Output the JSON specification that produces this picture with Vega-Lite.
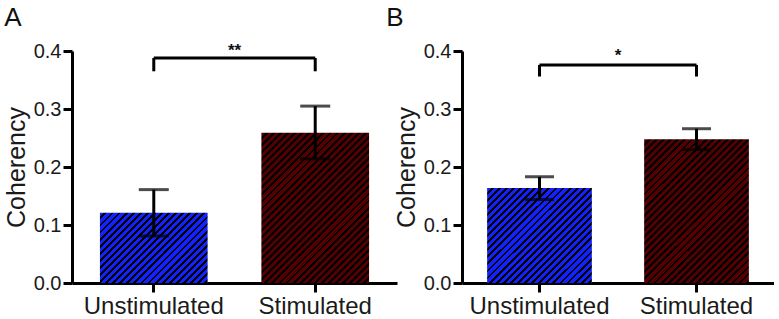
{
"$schema":"https://vega.github.io/schema/vega-lite/v6.json",
"padding":{"left":4,"top":5,"right":0,"bottom":0},
"bounds":"flush",
"spacing":65,
"config":{"view":{"stroke":null},"font":"Liberation Sans",
"axis":{"domainColor":"#000","domainWidth":3,"tickColor":"#000","tickWidth":3,"tickSize":9,"labelColor":"#1a1a1a","titleColor":"#1a1a1a","grid":false,"labelFont":"Liberation Sans","titleFont":"Liberation Sans"},
"axisX":{"labelFontSize":24,"labelPadding":2,"labelAngle":0},
"axisY":{"labelFontSize":20,"labelPadding":2,"titleFontSize":25,"titleFontWeight":"normal","titlePadding":4,"labelFlush":false,"labelOverlap":false},
"title":{"fontSize":26,"fontWeight":"normal","anchor":"start","frame":"bounds","color":"#111","font":"Liberation Sans","offset":10}},
"datasets":{
"barsA":[{"group":"Unstimulated","mean":0.121,"lo":0.081,"hi":0.161},{"group":"Stimulated","mean":0.259,"lo":0.214,"hi":0.305}],
"barsB":[{"group":"Unstimulated","mean":0.164,"lo":0.144,"hi":0.183},{"group":"Stimulated","mean":0.248,"lo":0.230,"hi":0.266}],
"brA":[{"from":"Unstimulated","to":"Stimulated","y":0.388,"leg":0.365,"ty":0.392,"label":"**"}],
"brB":[{"from":"Unstimulated","to":"Stimulated","y":0.376,"leg":0.356,"ty":0.383,"label":"*"}]
},
"hconcat":[
{"width":325,"height":232,"title":{"text":"A"},
"encoding":{
"x":{"field":"group","type":"nominal","title":null,"scale":{"domain":["Unstimulated","Stimulated"],"paddingInner":0.333,"paddingOuter":0.173},"axis":{"domainWidth":3,"tickWidth":3}},
"y":{"field":"mean","type":"quantitative","title":"Coherency","scale":{"domain":[0,0.4],"nice":false},"axis":{"values":[0,0.1,0.2,0.3,0.4],"format":".1f","domainWidth":3,"tickWidth":3}}},
"layer":[
{"data":{"name":"barsA"},"transform":[{"filter":"datum.group==='Unstimulated'"}],"mark":{"type":"bar","fill":{"gradient":"linear","x1":0,"y1":0,"x2":1.8432,"y2":1.2014,"stops":[
{"offset":0,"color":"#12f"},{"offset":0.015,"color":"#12f"},{"offset":0.015,"color":"#000"},{"offset":0.025,"color":"#000"},
{"offset":0.025,"color":"#12f"},{"offset":0.04,"color":"#12f"},{"offset":0.04,"color":"#000"},{"offset":0.05,"color":"#000"},
{"offset":0.05,"color":"#12f"},{"offset":0.065,"color":"#12f"},{"offset":0.065,"color":"#000"},{"offset":0.075,"color":"#000"},
{"offset":0.075,"color":"#12f"},{"offset":0.09,"color":"#12f"},{"offset":0.09,"color":"#000"},{"offset":0.1,"color":"#000"},
{"offset":0.1,"color":"#12f"},{"offset":0.115,"color":"#12f"},{"offset":0.115,"color":"#000"},{"offset":0.125,"color":"#000"},
{"offset":0.125,"color":"#12f"},{"offset":0.14,"color":"#12f"},{"offset":0.14,"color":"#000"},{"offset":0.15,"color":"#000"},
{"offset":0.15,"color":"#12f"},{"offset":0.165,"color":"#12f"},{"offset":0.165,"color":"#000"},{"offset":0.175,"color":"#000"},
{"offset":0.175,"color":"#12f"},{"offset":0.19,"color":"#12f"},{"offset":0.19,"color":"#000"},{"offset":0.2,"color":"#000"},
{"offset":0.2,"color":"#12f"},{"offset":0.215,"color":"#12f"},{"offset":0.215,"color":"#000"},{"offset":0.225,"color":"#000"},
{"offset":0.225,"color":"#12f"},{"offset":0.24,"color":"#12f"},{"offset":0.24,"color":"#000"},{"offset":0.25,"color":"#000"},
{"offset":0.25,"color":"#12f"},{"offset":0.265,"color":"#12f"},{"offset":0.265,"color":"#000"},{"offset":0.275,"color":"#000"},
{"offset":0.275,"color":"#12f"},{"offset":0.29,"color":"#12f"},{"offset":0.29,"color":"#000"},{"offset":0.3,"color":"#000"},
{"offset":0.3,"color":"#12f"},{"offset":0.315,"color":"#12f"},{"offset":0.315,"color":"#000"},{"offset":0.325,"color":"#000"},
{"offset":0.325,"color":"#12f"},{"offset":0.34,"color":"#12f"},{"offset":0.34,"color":"#000"},{"offset":0.35,"color":"#000"},
{"offset":0.35,"color":"#12f"},{"offset":0.365,"color":"#12f"},{"offset":0.365,"color":"#000"},{"offset":0.375,"color":"#000"},
{"offset":0.375,"color":"#12f"},{"offset":0.39,"color":"#12f"},{"offset":0.39,"color":"#000"},{"offset":0.4,"color":"#000"},
{"offset":0.4,"color":"#12f"},{"offset":0.415,"color":"#12f"},{"offset":0.415,"color":"#000"},{"offset":0.425,"color":"#000"},
{"offset":0.425,"color":"#12f"},{"offset":0.44,"color":"#12f"},{"offset":0.44,"color":"#000"},{"offset":0.45,"color":"#000"},
{"offset":0.45,"color":"#12f"},{"offset":0.465,"color":"#12f"},{"offset":0.465,"color":"#000"},{"offset":0.475,"color":"#000"},
{"offset":0.475,"color":"#12f"},{"offset":0.49,"color":"#12f"},{"offset":0.49,"color":"#000"},{"offset":0.5,"color":"#000"},
{"offset":0.5,"color":"#12f"},{"offset":0.515,"color":"#12f"},{"offset":0.515,"color":"#000"},{"offset":0.525,"color":"#000"},
{"offset":0.525,"color":"#12f"},{"offset":0.54,"color":"#12f"},{"offset":0.54,"color":"#000"},{"offset":0.55,"color":"#000"},
{"offset":0.55,"color":"#12f"},{"offset":0.565,"color":"#12f"},{"offset":0.565,"color":"#000"},{"offset":0.575,"color":"#000"},
{"offset":0.575,"color":"#12f"},{"offset":0.59,"color":"#12f"},{"offset":0.59,"color":"#000"},{"offset":0.6,"color":"#000"},
{"offset":0.6,"color":"#12f"},{"offset":0.615,"color":"#12f"},{"offset":0.615,"color":"#000"},{"offset":0.625,"color":"#000"},
{"offset":0.625,"color":"#12f"},{"offset":0.64,"color":"#12f"},{"offset":0.64,"color":"#000"},{"offset":0.65,"color":"#000"}
]}}},
{"data":{"name":"barsA"},"transform":[{"filter":"datum.group==='Stimulated'"}],"mark":{"type":"bar","fill":{"gradient":"linear","x1":0,"y1":0,"x2":0.8918,"y2":1.2437,"stops":[
{"offset":0,"color":"#500"},{"offset":0.015,"color":"#500"},{"offset":0.015,"color":"#000"},{"offset":0.025,"color":"#000"},
{"offset":0.025,"color":"#500"},{"offset":0.04,"color":"#500"},{"offset":0.04,"color":"#000"},{"offset":0.05,"color":"#000"},
{"offset":0.05,"color":"#500"},{"offset":0.065,"color":"#500"},{"offset":0.065,"color":"#000"},{"offset":0.075,"color":"#000"},
{"offset":0.075,"color":"#500"},{"offset":0.09,"color":"#500"},{"offset":0.09,"color":"#000"},{"offset":0.1,"color":"#000"},
{"offset":0.1,"color":"#500"},{"offset":0.115,"color":"#500"},{"offset":0.115,"color":"#000"},{"offset":0.125,"color":"#000"},
{"offset":0.125,"color":"#500"},{"offset":0.14,"color":"#500"},{"offset":0.14,"color":"#000"},{"offset":0.15,"color":"#000"},
{"offset":0.15,"color":"#500"},{"offset":0.165,"color":"#500"},{"offset":0.165,"color":"#000"},{"offset":0.175,"color":"#000"},
{"offset":0.175,"color":"#500"},{"offset":0.19,"color":"#500"},{"offset":0.19,"color":"#000"},{"offset":0.2,"color":"#000"},
{"offset":0.2,"color":"#500"},{"offset":0.215,"color":"#500"},{"offset":0.215,"color":"#000"},{"offset":0.225,"color":"#000"},
{"offset":0.225,"color":"#500"},{"offset":0.24,"color":"#500"},{"offset":0.24,"color":"#000"},{"offset":0.25,"color":"#000"},
{"offset":0.25,"color":"#500"},{"offset":0.265,"color":"#500"},{"offset":0.265,"color":"#000"},{"offset":0.275,"color":"#000"},
{"offset":0.275,"color":"#500"},{"offset":0.29,"color":"#500"},{"offset":0.29,"color":"#000"},{"offset":0.3,"color":"#000"},
{"offset":0.3,"color":"#500"},{"offset":0.315,"color":"#500"},{"offset":0.315,"color":"#000"},{"offset":0.325,"color":"#000"},
{"offset":0.325,"color":"#500"},{"offset":0.34,"color":"#500"},{"offset":0.34,"color":"#000"},{"offset":0.35,"color":"#000"},
{"offset":0.35,"color":"#500"},{"offset":0.365,"color":"#500"},{"offset":0.365,"color":"#000"},{"offset":0.375,"color":"#000"},
{"offset":0.375,"color":"#500"},{"offset":0.39,"color":"#500"},{"offset":0.39,"color":"#000"},{"offset":0.4,"color":"#000"},
{"offset":0.4,"color":"#500"},{"offset":0.415,"color":"#500"},{"offset":0.415,"color":"#000"},{"offset":0.425,"color":"#000"},
{"offset":0.425,"color":"#500"},{"offset":0.44,"color":"#500"},{"offset":0.44,"color":"#000"},{"offset":0.45,"color":"#000"},
{"offset":0.45,"color":"#500"},{"offset":0.465,"color":"#500"},{"offset":0.465,"color":"#000"},{"offset":0.475,"color":"#000"},
{"offset":0.475,"color":"#500"},{"offset":0.49,"color":"#500"},{"offset":0.49,"color":"#000"},{"offset":0.5,"color":"#000"},
{"offset":0.5,"color":"#500"},{"offset":0.515,"color":"#500"},{"offset":0.515,"color":"#000"},{"offset":0.525,"color":"#000"},
{"offset":0.525,"color":"#500"},{"offset":0.54,"color":"#500"},{"offset":0.54,"color":"#000"},{"offset":0.55,"color":"#000"},
{"offset":0.55,"color":"#500"},{"offset":0.565,"color":"#500"},{"offset":0.565,"color":"#000"},{"offset":0.575,"color":"#000"},
{"offset":0.575,"color":"#500"},{"offset":0.59,"color":"#500"},{"offset":0.59,"color":"#000"},{"offset":0.6,"color":"#000"},
{"offset":0.6,"color":"#500"},{"offset":0.615,"color":"#500"},{"offset":0.615,"color":"#000"},{"offset":0.625,"color":"#000"},
{"offset":0.625,"color":"#500"},{"offset":0.64,"color":"#500"},{"offset":0.64,"color":"#000"},{"offset":0.65,"color":"#000"},
{"offset":0.65,"color":"#500"},{"offset":0.665,"color":"#500"},{"offset":0.665,"color":"#000"},{"offset":0.675,"color":"#000"},
{"offset":0.675,"color":"#500"},{"offset":0.69,"color":"#500"},{"offset":0.69,"color":"#000"},{"offset":0.7,"color":"#000"},
{"offset":0.7,"color":"#500"},{"offset":0.715,"color":"#500"},{"offset":0.715,"color":"#000"},{"offset":0.725,"color":"#000"},
{"offset":0.725,"color":"#500"},{"offset":0.74,"color":"#500"},{"offset":0.74,"color":"#000"},{"offset":0.75,"color":"#000"},
{"offset":0.75,"color":"#500"},{"offset":0.765,"color":"#500"},{"offset":0.765,"color":"#000"},{"offset":0.775,"color":"#000"},
{"offset":0.775,"color":"#500"},{"offset":0.79,"color":"#500"},{"offset":0.79,"color":"#000"},{"offset":0.8,"color":"#000"},
{"offset":0.8,"color":"#500"},{"offset":0.815,"color":"#500"},{"offset":0.815,"color":"#000"},{"offset":0.825,"color":"#000"},
{"offset":0.825,"color":"#500"},{"offset":0.84,"color":"#500"},{"offset":0.84,"color":"#000"},{"offset":0.85,"color":"#000"},
{"offset":0.85,"color":"#500"},{"offset":0.865,"color":"#500"},{"offset":0.865,"color":"#000"},{"offset":0.875,"color":"#000"},
{"offset":0.875,"color":"#500"},{"offset":0.89,"color":"#500"},{"offset":0.89,"color":"#000"},{"offset":0.9,"color":"#000"},
{"offset":0.9,"color":"#500"},{"offset":0.915,"color":"#500"},{"offset":0.915,"color":"#000"},{"offset":0.925,"color":"#000"}
]}}},
{"data":{"name":"barsA"},"mark":{"type":"rule","strokeWidth":3,"color":"#000"},"encoding":{
"y":{"field":"lo","type":"quantitative","title":"Coherency"},"y2":{"field":"hi"}}},
{"data":{"name":"barsA"},"mark":{"type":"tick","size":30,"thickness":3,"color":"#000","orient":"horizontal"},"encoding":{
"y":{"field":"hi","type":"quantitative","title":"Coherency"}}},
{"data":{"name":"barsA"},"mark":{"type":"tick","size":30,"thickness":3,"color":"#000","orient":"horizontal"},"encoding":{
"y":{"field":"lo","type":"quantitative","title":"Coherency"}}},
{"data":{"name":"brA"},"mark":{"type":"rule","strokeWidth":3,"color":"#000"},"encoding":{
"x":{"field":"from","type":"nominal","title":null},"x2":{"field":"to"},
"y":{"field":"y","type":"quantitative","title":"Coherency"}}},
{"data":{"name":"brA"},"mark":{"type":"rule","strokeWidth":3,"color":"#000"},"encoding":{
"x":{"field":"from","type":"nominal","title":null},
"y":{"field":"leg","type":"quantitative","title":"Coherency"},"y2":{"field":"y"}}},
{"data":{"name":"brA"},"mark":{"type":"rule","strokeWidth":3,"color":"#000"},"encoding":{
"x":{"field":"to","type":"nominal","title":null},
"y":{"field":"leg","type":"quantitative","title":"Coherency"},"y2":{"field":"y"}}},
{"data":{"name":"brA"},"mark":{"type":"text","fontSize":17,"fontWeight":"bold","baseline":"alphabetic","align":"center","color":"#111"},"encoding":{
"x":{"field":"from","type":"nominal","title":null,"bandPosition":1.25},
"y":{"field":"ty","type":"quantitative","title":"Coherency"},
"text":{"field":"label"}}}
]},
{"width":312,"height":232,"title":{"text":"B","dx":-8},
"encoding":{
"x":{"field":"group","type":"nominal","title":null,"scale":{"domain":["Unstimulated","Stimulated"],"paddingInner":0.333,"paddingOuter":0.16},"axis":{"domainWidth":3,"tickWidth":3}},
"y":{"field":"mean","type":"quantitative","title":"Coherency","scale":{"domain":[0,0.4],"nice":false},"axis":{"values":[0,0.1,0.2,0.3,0.4],"format":".1f","domainWidth":3,"tickWidth":3}}},
"layer":[
{"data":{"name":"barsB"},"transform":[{"filter":"datum.group==='Unstimulated'"}],"mark":{"type":"bar","fill":{"gradient":"linear","x1":0,"y1":0,"x2":1.4805,"y2":1.3473,"stops":[
{"offset":0,"color":"#12f"},{"offset":0.015,"color":"#12f"},{"offset":0.015,"color":"#000"},{"offset":0.025,"color":"#000"},
{"offset":0.025,"color":"#12f"},{"offset":0.04,"color":"#12f"},{"offset":0.04,"color":"#000"},{"offset":0.05,"color":"#000"},
{"offset":0.05,"color":"#12f"},{"offset":0.065,"color":"#12f"},{"offset":0.065,"color":"#000"},{"offset":0.075,"color":"#000"},
{"offset":0.075,"color":"#12f"},{"offset":0.09,"color":"#12f"},{"offset":0.09,"color":"#000"},{"offset":0.1,"color":"#000"},
{"offset":0.1,"color":"#12f"},{"offset":0.115,"color":"#12f"},{"offset":0.115,"color":"#000"},{"offset":0.125,"color":"#000"},
{"offset":0.125,"color":"#12f"},{"offset":0.14,"color":"#12f"},{"offset":0.14,"color":"#000"},{"offset":0.15,"color":"#000"},
{"offset":0.15,"color":"#12f"},{"offset":0.165,"color":"#12f"},{"offset":0.165,"color":"#000"},{"offset":0.175,"color":"#000"},
{"offset":0.175,"color":"#12f"},{"offset":0.19,"color":"#12f"},{"offset":0.19,"color":"#000"},{"offset":0.2,"color":"#000"},
{"offset":0.2,"color":"#12f"},{"offset":0.215,"color":"#12f"},{"offset":0.215,"color":"#000"},{"offset":0.225,"color":"#000"},
{"offset":0.225,"color":"#12f"},{"offset":0.24,"color":"#12f"},{"offset":0.24,"color":"#000"},{"offset":0.25,"color":"#000"},
{"offset":0.25,"color":"#12f"},{"offset":0.265,"color":"#12f"},{"offset":0.265,"color":"#000"},{"offset":0.275,"color":"#000"},
{"offset":0.275,"color":"#12f"},{"offset":0.29,"color":"#12f"},{"offset":0.29,"color":"#000"},{"offset":0.3,"color":"#000"},
{"offset":0.3,"color":"#12f"},{"offset":0.315,"color":"#12f"},{"offset":0.315,"color":"#000"},{"offset":0.325,"color":"#000"},
{"offset":0.325,"color":"#12f"},{"offset":0.34,"color":"#12f"},{"offset":0.34,"color":"#000"},{"offset":0.35,"color":"#000"},
{"offset":0.35,"color":"#12f"},{"offset":0.365,"color":"#12f"},{"offset":0.365,"color":"#000"},{"offset":0.375,"color":"#000"},
{"offset":0.375,"color":"#12f"},{"offset":0.39,"color":"#12f"},{"offset":0.39,"color":"#000"},{"offset":0.4,"color":"#000"},
{"offset":0.4,"color":"#12f"},{"offset":0.415,"color":"#12f"},{"offset":0.415,"color":"#000"},{"offset":0.425,"color":"#000"},
{"offset":0.425,"color":"#12f"},{"offset":0.44,"color":"#12f"},{"offset":0.44,"color":"#000"},{"offset":0.45,"color":"#000"},
{"offset":0.45,"color":"#12f"},{"offset":0.465,"color":"#12f"},{"offset":0.465,"color":"#000"},{"offset":0.475,"color":"#000"},
{"offset":0.475,"color":"#12f"},{"offset":0.49,"color":"#12f"},{"offset":0.49,"color":"#000"},{"offset":0.5,"color":"#000"},
{"offset":0.5,"color":"#12f"},{"offset":0.515,"color":"#12f"},{"offset":0.515,"color":"#000"},{"offset":0.525,"color":"#000"},
{"offset":0.525,"color":"#12f"},{"offset":0.54,"color":"#12f"},{"offset":0.54,"color":"#000"},{"offset":0.55,"color":"#000"},
{"offset":0.55,"color":"#12f"},{"offset":0.565,"color":"#12f"},{"offset":0.565,"color":"#000"},{"offset":0.575,"color":"#000"},
{"offset":0.575,"color":"#12f"},{"offset":0.59,"color":"#12f"},{"offset":0.59,"color":"#000"},{"offset":0.6,"color":"#000"},
{"offset":0.6,"color":"#12f"},{"offset":0.615,"color":"#12f"},{"offset":0.615,"color":"#000"},{"offset":0.625,"color":"#000"},
{"offset":0.625,"color":"#12f"},{"offset":0.64,"color":"#12f"},{"offset":0.64,"color":"#000"},{"offset":0.65,"color":"#000"},
{"offset":0.65,"color":"#12f"},{"offset":0.665,"color":"#12f"},{"offset":0.665,"color":"#000"},{"offset":0.675,"color":"#000"},
{"offset":0.675,"color":"#12f"},{"offset":0.69,"color":"#12f"},{"offset":0.69,"color":"#000"},{"offset":0.7,"color":"#000"},
{"offset":0.7,"color":"#12f"},{"offset":0.715,"color":"#12f"},{"offset":0.715,"color":"#000"},{"offset":0.725,"color":"#000"}
]}}},
{"data":{"name":"barsB"},"transform":[{"filter":"datum.group==='Stimulated'"}],"mark":{"type":"bar","fill":{"gradient":"linear","x1":0,"y1":0,"x2":0.9354,"y2":1.2872,"stops":[
{"offset":0,"color":"#500"},{"offset":0.015,"color":"#500"},{"offset":0.015,"color":"#000"},{"offset":0.025,"color":"#000"},
{"offset":0.025,"color":"#500"},{"offset":0.04,"color":"#500"},{"offset":0.04,"color":"#000"},{"offset":0.05,"color":"#000"},
{"offset":0.05,"color":"#500"},{"offset":0.065,"color":"#500"},{"offset":0.065,"color":"#000"},{"offset":0.075,"color":"#000"},
{"offset":0.075,"color":"#500"},{"offset":0.09,"color":"#500"},{"offset":0.09,"color":"#000"},{"offset":0.1,"color":"#000"},
{"offset":0.1,"color":"#500"},{"offset":0.115,"color":"#500"},{"offset":0.115,"color":"#000"},{"offset":0.125,"color":"#000"},
{"offset":0.125,"color":"#500"},{"offset":0.14,"color":"#500"},{"offset":0.14,"color":"#000"},{"offset":0.15,"color":"#000"},
{"offset":0.15,"color":"#500"},{"offset":0.165,"color":"#500"},{"offset":0.165,"color":"#000"},{"offset":0.175,"color":"#000"},
{"offset":0.175,"color":"#500"},{"offset":0.19,"color":"#500"},{"offset":0.19,"color":"#000"},{"offset":0.2,"color":"#000"},
{"offset":0.2,"color":"#500"},{"offset":0.215,"color":"#500"},{"offset":0.215,"color":"#000"},{"offset":0.225,"color":"#000"},
{"offset":0.225,"color":"#500"},{"offset":0.24,"color":"#500"},{"offset":0.24,"color":"#000"},{"offset":0.25,"color":"#000"},
{"offset":0.25,"color":"#500"},{"offset":0.265,"color":"#500"},{"offset":0.265,"color":"#000"},{"offset":0.275,"color":"#000"},
{"offset":0.275,"color":"#500"},{"offset":0.29,"color":"#500"},{"offset":0.29,"color":"#000"},{"offset":0.3,"color":"#000"},
{"offset":0.3,"color":"#500"},{"offset":0.315,"color":"#500"},{"offset":0.315,"color":"#000"},{"offset":0.325,"color":"#000"},
{"offset":0.325,"color":"#500"},{"offset":0.34,"color":"#500"},{"offset":0.34,"color":"#000"},{"offset":0.35,"color":"#000"},
{"offset":0.35,"color":"#500"},{"offset":0.365,"color":"#500"},{"offset":0.365,"color":"#000"},{"offset":0.375,"color":"#000"},
{"offset":0.375,"color":"#500"},{"offset":0.39,"color":"#500"},{"offset":0.39,"color":"#000"},{"offset":0.4,"color":"#000"},
{"offset":0.4,"color":"#500"},{"offset":0.415,"color":"#500"},{"offset":0.415,"color":"#000"},{"offset":0.425,"color":"#000"},
{"offset":0.425,"color":"#500"},{"offset":0.44,"color":"#500"},{"offset":0.44,"color":"#000"},{"offset":0.45,"color":"#000"},
{"offset":0.45,"color":"#500"},{"offset":0.465,"color":"#500"},{"offset":0.465,"color":"#000"},{"offset":0.475,"color":"#000"},
{"offset":0.475,"color":"#500"},{"offset":0.49,"color":"#500"},{"offset":0.49,"color":"#000"},{"offset":0.5,"color":"#000"},
{"offset":0.5,"color":"#500"},{"offset":0.515,"color":"#500"},{"offset":0.515,"color":"#000"},{"offset":0.525,"color":"#000"},
{"offset":0.525,"color":"#500"},{"offset":0.54,"color":"#500"},{"offset":0.54,"color":"#000"},{"offset":0.55,"color":"#000"},
{"offset":0.55,"color":"#500"},{"offset":0.565,"color":"#500"},{"offset":0.565,"color":"#000"},{"offset":0.575,"color":"#000"},
{"offset":0.575,"color":"#500"},{"offset":0.59,"color":"#500"},{"offset":0.59,"color":"#000"},{"offset":0.6,"color":"#000"},
{"offset":0.6,"color":"#500"},{"offset":0.615,"color":"#500"},{"offset":0.615,"color":"#000"},{"offset":0.625,"color":"#000"},
{"offset":0.625,"color":"#500"},{"offset":0.64,"color":"#500"},{"offset":0.64,"color":"#000"},{"offset":0.65,"color":"#000"},
{"offset":0.65,"color":"#500"},{"offset":0.665,"color":"#500"},{"offset":0.665,"color":"#000"},{"offset":0.675,"color":"#000"},
{"offset":0.675,"color":"#500"},{"offset":0.69,"color":"#500"},{"offset":0.69,"color":"#000"},{"offset":0.7,"color":"#000"},
{"offset":0.7,"color":"#500"},{"offset":0.715,"color":"#500"},{"offset":0.715,"color":"#000"},{"offset":0.725,"color":"#000"},
{"offset":0.725,"color":"#500"},{"offset":0.74,"color":"#500"},{"offset":0.74,"color":"#000"},{"offset":0.75,"color":"#000"},
{"offset":0.75,"color":"#500"},{"offset":0.765,"color":"#500"},{"offset":0.765,"color":"#000"},{"offset":0.775,"color":"#000"},
{"offset":0.775,"color":"#500"},{"offset":0.79,"color":"#500"},{"offset":0.79,"color":"#000"},{"offset":0.8,"color":"#000"},
{"offset":0.8,"color":"#500"},{"offset":0.815,"color":"#500"},{"offset":0.815,"color":"#000"},{"offset":0.825,"color":"#000"},
{"offset":0.825,"color":"#500"},{"offset":0.84,"color":"#500"},{"offset":0.84,"color":"#000"},{"offset":0.85,"color":"#000"},
{"offset":0.85,"color":"#500"},{"offset":0.865,"color":"#500"},{"offset":0.865,"color":"#000"},{"offset":0.875,"color":"#000"},
{"offset":0.875,"color":"#500"},{"offset":0.89,"color":"#500"},{"offset":0.89,"color":"#000"},{"offset":0.9,"color":"#000"}
]}}},
{"data":{"name":"barsB"},"mark":{"type":"rule","strokeWidth":3,"color":"#000"},"encoding":{
"y":{"field":"lo","type":"quantitative","title":"Coherency"},"y2":{"field":"hi"}}},
{"data":{"name":"barsB"},"mark":{"type":"tick","size":29,"thickness":3,"color":"#000","orient":"horizontal"},"encoding":{
"y":{"field":"hi","type":"quantitative","title":"Coherency"}}},
{"data":{"name":"barsB"},"mark":{"type":"tick","size":29,"thickness":3,"color":"#000","orient":"horizontal"},"encoding":{
"y":{"field":"lo","type":"quantitative","title":"Coherency"}}},
{"data":{"name":"brB"},"mark":{"type":"rule","strokeWidth":3,"color":"#000"},"encoding":{
"x":{"field":"from","type":"nominal","title":null},"x2":{"field":"to"},
"y":{"field":"y","type":"quantitative","title":"Coherency"}}},
{"data":{"name":"brB"},"mark":{"type":"rule","strokeWidth":3,"color":"#000"},"encoding":{
"x":{"field":"from","type":"nominal","title":null},
"y":{"field":"leg","type":"quantitative","title":"Coherency"},"y2":{"field":"y"}}},
{"data":{"name":"brB"},"mark":{"type":"rule","strokeWidth":3,"color":"#000"},"encoding":{
"x":{"field":"to","type":"nominal","title":null},
"y":{"field":"leg","type":"quantitative","title":"Coherency"},"y2":{"field":"y"}}},
{"data":{"name":"brB"},"mark":{"type":"text","fontSize":17,"fontWeight":"bold","baseline":"alphabetic","align":"center","color":"#111"},"encoding":{
"x":{"field":"from","type":"nominal","title":null,"bandPosition":1.25},
"y":{"field":"ty","type":"quantitative","title":"Coherency"},
"text":{"field":"label"}}}
]}
]
}
